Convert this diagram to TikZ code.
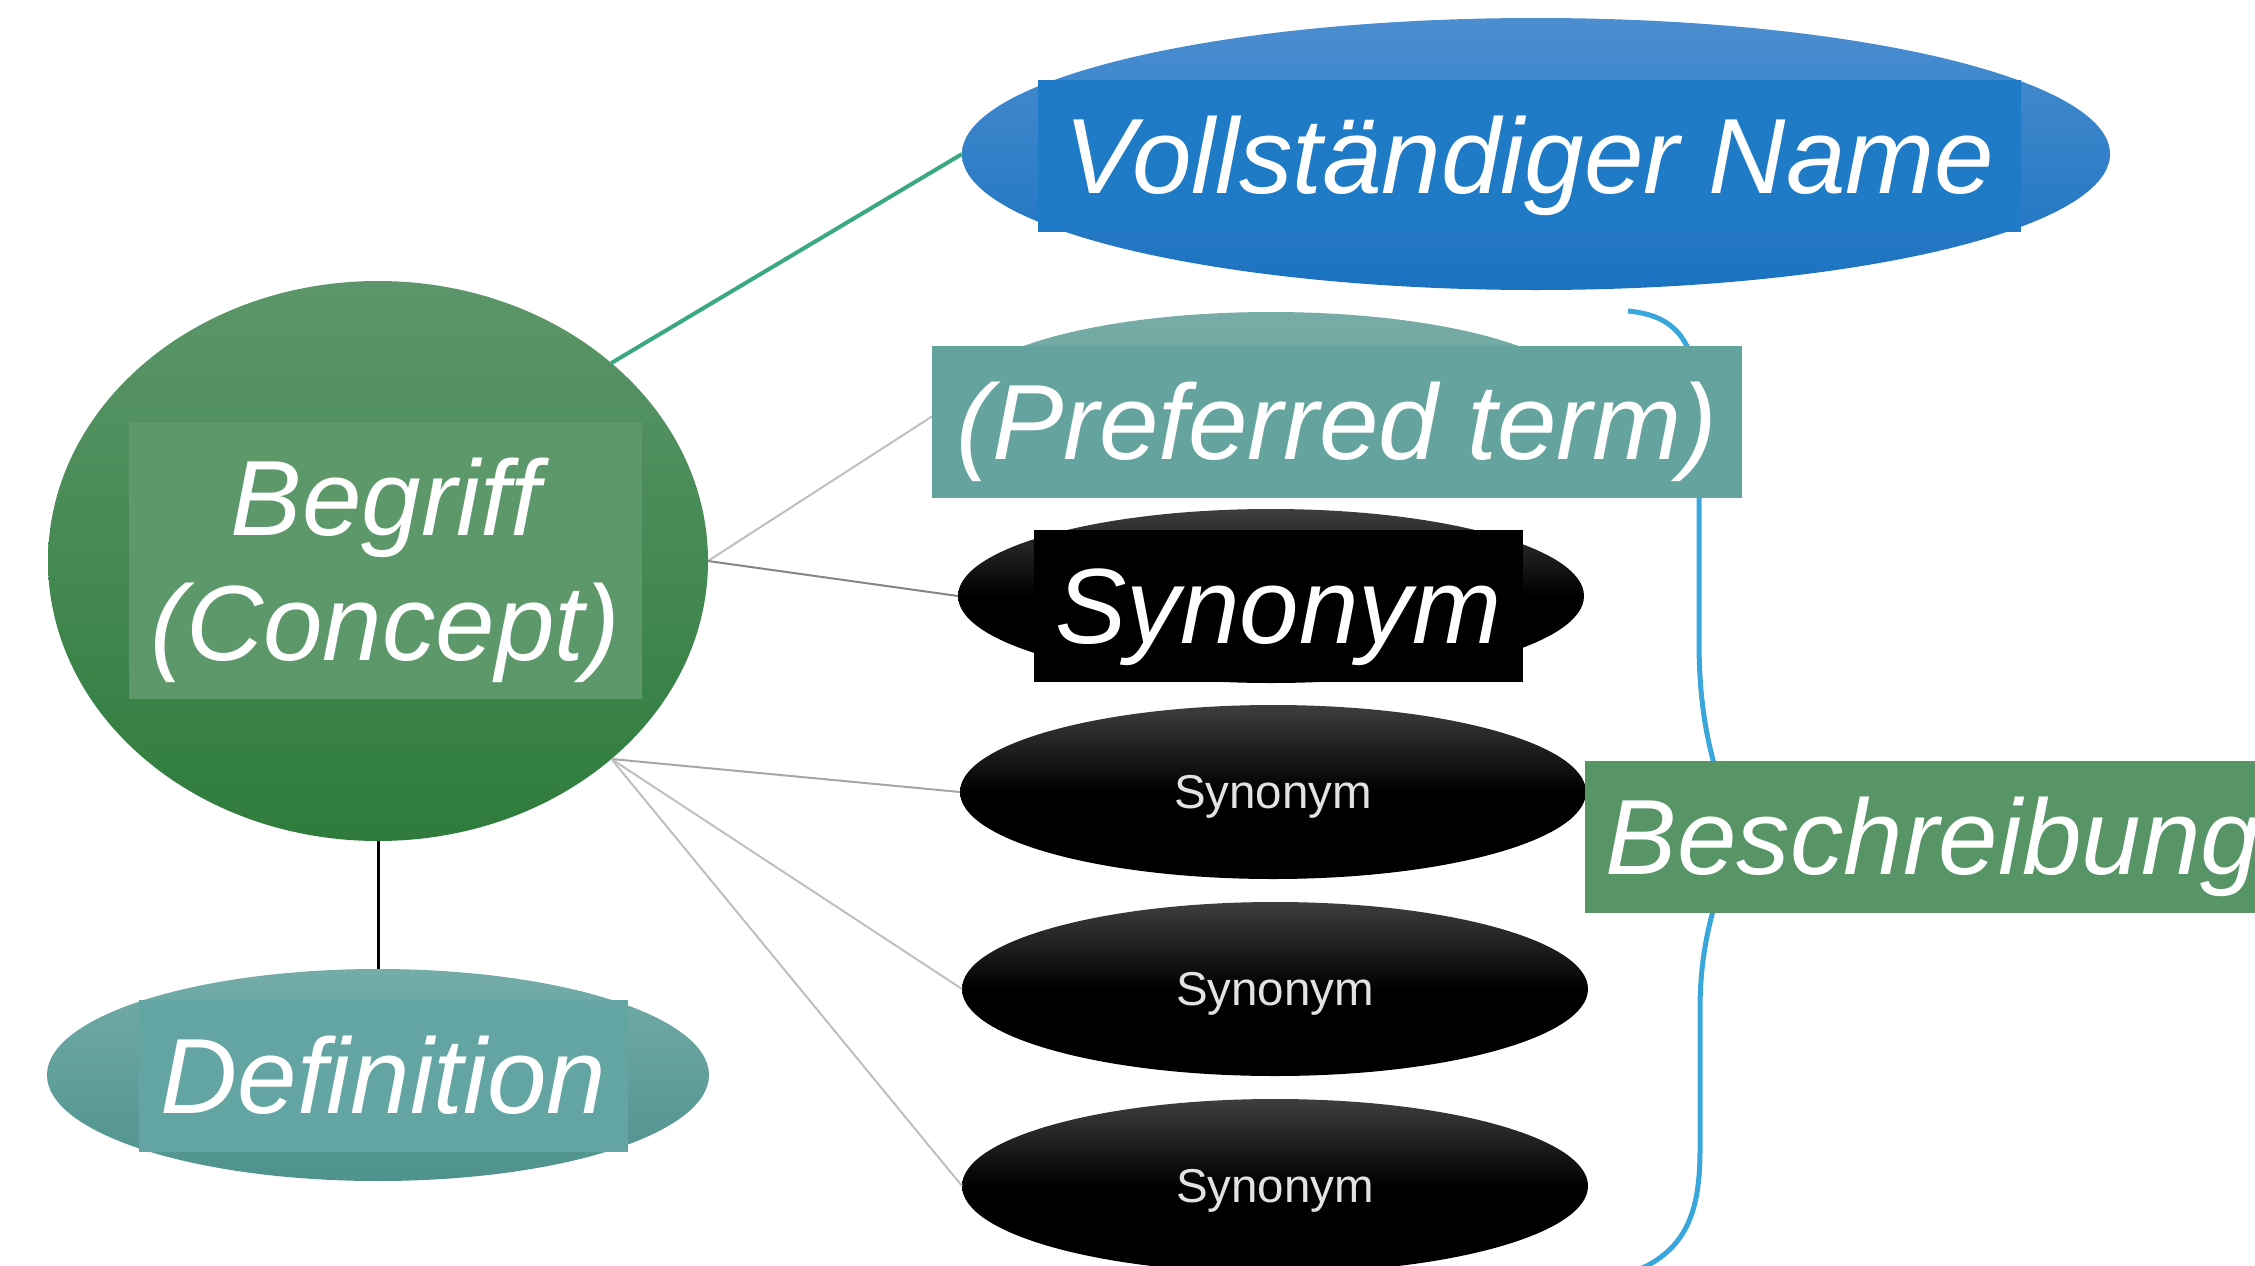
\documentclass[tikz,border=0pt]{standalone}
\usepackage{fontspec}
\setmainfont{Liberation Sans}
\usepackage{tikz}
\usetikzlibrary{shapes.geometric}
\definecolor{conceptTop}{RGB}{92,150,106}
\definecolor{conceptBot}{RGB}{46,124,60}
\definecolor{conceptBox}{RGB}{92,152,106}
\definecolor{nameTop}{RGB}{76,142,208}
\definecolor{nameBot}{RGB}{26,114,192}
\definecolor{nameBox}{RGB}{31,123,198}
\definecolor{prefTop}{RGB}{120,172,166}
\definecolor{prefBot}{RGB}{92,158,152}
\definecolor{prefBox}{RGB}{100,163,158}
\definecolor{defTop}{RGB}{116,172,168}
\definecolor{defBot}{RGB}{78,146,142}
\definecolor{defBox}{RGB}{98,165,162}
\definecolor{descBox}{RGB}{87,148,102}
\definecolor{synTop}{RGB}{62,62,62}
\definecolor{synText}{RGB}{226,226,226}
\definecolor{braceBlue}{RGB}{58,167,220}
\definecolor{nameLine}{RGB}{58,168,130}

\begin{document}
\begin{tikzpicture}[x=1pt,y=-1pt,
    ell_node/.style={ellipse,inner sep=0pt,outer sep=0pt},
    syn_node/.style={ell_node,minimum width=626pt,minimum height=174pt,top color=synTop,bottom color=black,middle color=black,text=synText,font=\fontsize{47.5pt}{50pt}\selectfont,text height=33pt,text depth=0pt},
    label_box/.style={rectangle,inner sep=0pt,outer sep=0pt,text=white,minimum height=152pt,font=\fontsize{107pt}{125pt}\selectfont\itshape},
    one_line/.style={text height=75pt,text depth=0pt}]

    \useasboundingbox (0,0) rectangle (2255,1266);
    \clip (0,0) rectangle (2255,1266);

    \node[ell_node,minimum width=660pt,minimum height=560pt,top color=conceptTop,bottom color=conceptBot] (begriff) at (378,561) {};
    \node[ell_node,minimum width=1148pt,minimum height=272pt,top color=nameTop,bottom color=nameBot] (vollname) at (1536,154) {};
    \node[ell_node,minimum width=624pt,minimum height=174pt,top color=prefTop,bottom color=prefBot] (pref) at (1271,399) {};
    \node[syn_node] (syn1) at (1271,596) {};
    \node[syn_node] (syn2) at (1273,792) {Synonym};
    \node[syn_node] (syn3) at (1275,989) {Synonym};
    \node[syn_node] (syn4) at (1275,1186) {Synonym};
    \node[ell_node,minimum width=662pt,minimum height=212pt,top color=defTop,bottom color=defBot] (definition) at (378,1075) {};

    \begin{scope}[every path/.style={line width=2pt}]
    \draw[black!25] (begriff.east) -- (pref.west);
    \draw[black!48] (begriff.east) -- (syn1.west);
    \draw[black!35] (begriff.south east) -- (syn2.west);
    \draw[black!25] (begriff.south east) -- (syn3.west);
    \draw[black!25] (begriff.south east) -- (syn4.west);
    \end{scope}
    \draw[nameLine,line width=4pt] (begriff.north east) -- (vollname.west);
    \draw[black,line width=3pt] (begriff.south) -- (definition.north);

    % brace round the terms
    \draw[braceBlue,line width=5pt] (1628,311) .. controls (1680,316) and (1699,345) .. (1699,420)
        -- (1699,640) .. controls (1699,720) and (1712,770) .. (1740,837)
        .. controls (1712,900) and (1700,950) .. (1700,1010)
        -- (1700,1150) .. controls (1700,1215) and (1685,1255) .. (1625,1275);

    \node[label_box,one_line,fill=nameBox,minimum width=983pt] (vollname_box) at (1529.5,156) {Vollständiger Name};
    \node[label_box,one_line,fill=prefBox,minimum width=810pt] (pref_box) at (1337,421.5) {(Preferred term)};
    \node[label_box,one_line,fill=black,minimum width=489pt] (syn1_box) at (1278.5,606) {Synonym};
    \node[label_box,one_line,fill=defBox,minimum width=489pt] (def_box) at (383.5,1076) {Definition};
    \node[label_box,one_line,fill=descBox,minimum width=696pt] (desc_box) at (1933,837) {Beschreibung};
    \node[label_box,fill=conceptBox,minimum width=513pt,minimum height=277pt,align=center,text height=209pt,text depth=9pt] (begriff_box) at (385.5,560) {Begriff\\(Concept)};
\end{tikzpicture}
\end{document}
